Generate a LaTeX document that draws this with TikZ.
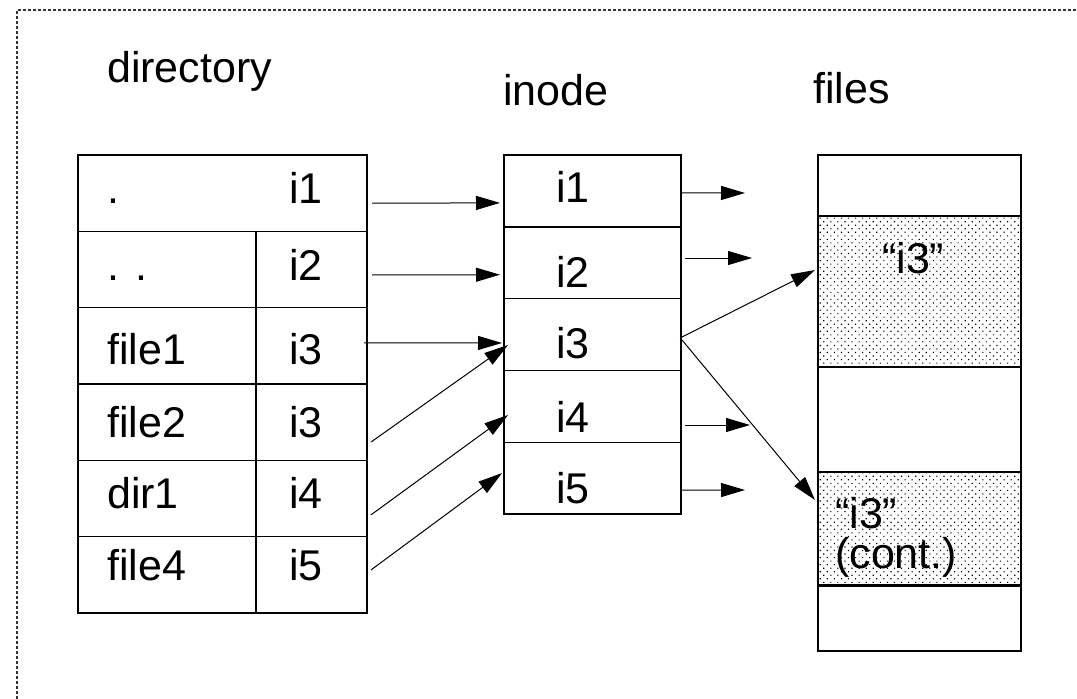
\documentclass[tikz,border=0pt]{standalone}
\usepackage{fontspec}
\setmainfont{Liberation Sans}
\usetikzlibrary{arrows.meta,patterns.meta}

\begin{document}
\begin{tikzpicture}[x=1pt,y=-1pt,font=\fontsize{43}{42}\selectfont,
    cell/.style={draw,line width=1.4pt,anchor=north west,inner sep=0pt,outer sep=0pt},
    lbl/.style={anchor=base west,inner sep=0pt},
    ptr/.style={-{Triangle[length=24pt,width=14pt]},line width=1pt},
    shade/.style={pattern={Dots[distance=5pt,radius=0.8pt,angle=45]}}]
    \useasboundingbox(0,0)rectangle(1077,699);
    \draw[dash pattern=on 3pt off 2pt,line width=1.2pt,black!80](17,699)--(17,10)--(1077,10);
    % titles
    \node[lbl](tdir) at (107,82){directory};
    \node[lbl](tino) at (503,105){inode};
    \node[lbl](tfil) at (813,103){files};
    % directory table
    \node[cell,minimum width=289pt,minimum height=76.3pt](d1) at (78,155){};
    \node[lbl](dt1) at (107,203){.};
    \node[lbl](du1) at (289,203){i1};
    \foreach \k/\nm/\ino/\bl in {2/{. .}/i2/280,3/file1/i3/364,4/file2/i3/437,5/dir1/i4/508,6/file4/i5/580}{
      \node[cell,minimum width=178pt,minimum height=76.3pt](dn\k) at (78,{155+76.3*(\k-1)}){};
      \node[cell,minimum width=111pt,minimum height=76.3pt](di\k) at (256,{155+76.3*(\k-1)}){};
      \node[lbl](dt\k) at (107,\bl){\nm};
      \node[lbl](du\k) at (289,\bl){\ino};
    }
    % inode table
    \foreach \k/\bl in {1/202,2/287,3/358,4/432,5/503}{
      \node[cell,minimum width=177pt,minimum height=71.8pt](n\k) at (504,{155+71.8*(\k-1)}){};
      \node[lbl](nt\k) at (556,\bl){i\k};
    }
    % files
    \node[cell,minimum width=203pt,minimum height=61pt](f1) at (818,155){};
    \node[cell,shade,minimum width=203pt,minimum height=151pt](f2) at (818,216){};
    \node[cell,minimum width=203pt,minimum height=105pt](f3) at (818,367){};
    \node[cell,shade,minimum width=203pt,minimum height=113pt](f4) at (818,472){};
    \node[cell,minimum width=203pt,minimum height=66pt](f5) at (818,585){};
    \draw[line width=3pt](f4.south west)--(f4.south east);
    \node[lbl](f2t) at (882,273){“i3”};
    \node[lbl](f4t) at (835,528){“i3”};
    \node[lbl](f4c) at (835,568){(cont.)};
    % directory -> inode
    \draw[ptr]([xshift=5pt,yshift=-10pt]d1.east)--([xshift=-4pt,yshift=-12pt]n1.west);
    \draw[ptr]([xshift=5pt,yshift=-5.5pt]di2.east)--([xshift=-4pt,yshift=-12pt]n2.west);
    \draw[ptr]([xshift=-3pt,yshift=3pt]di3.east)--([xshift=-2pt,yshift=-8.5pt]n3.west);
    \draw[ptr]([xshift=4pt,yshift=-20pt]di4.east)--([xshift=4pt,yshift=-10.5pt]n3.west);
    \draw[ptr]([xshift=4pt,yshift=-16.5pt]di5.east)--([xshift=4pt,yshift=-8.7pt]n4.west);
    \draw[ptr]([xshift=4pt,yshift=4.7pt]di6.east)--([xshift=-2pt,yshift=5pt]n5.west);
    % inode -> files
    \coordinate(o1) at (745,193);
    \coordinate(o2) at (752,258);
    \coordinate(o4) at (750,425);
    \coordinate(o5) at (745,490);
    \draw[ptr]([xshift=-1pt,yshift=-2pt]n1.east)--(o1);
    \draw[ptr]([xshift=4pt,yshift=4.7pt]n2.east)--(o2);
    \draw[ptr]([xshift=4pt,yshift=-18.7pt]n4.east)--(o4);
    \draw[ptr]([xshift=-1pt,yshift=-12pt]n5.east)--(o5);
    \draw[ptr]([xshift=-1pt,yshift=-3.5pt]n3.east)--([xshift=-3pt,yshift=21.5pt]f2.west);
    \draw[ptr]([xshift=1pt,yshift=-5.5pt]n3.east)--([xshift=-3pt,yshift=28.5pt]f4.west);
\end{tikzpicture}
\end{document}
